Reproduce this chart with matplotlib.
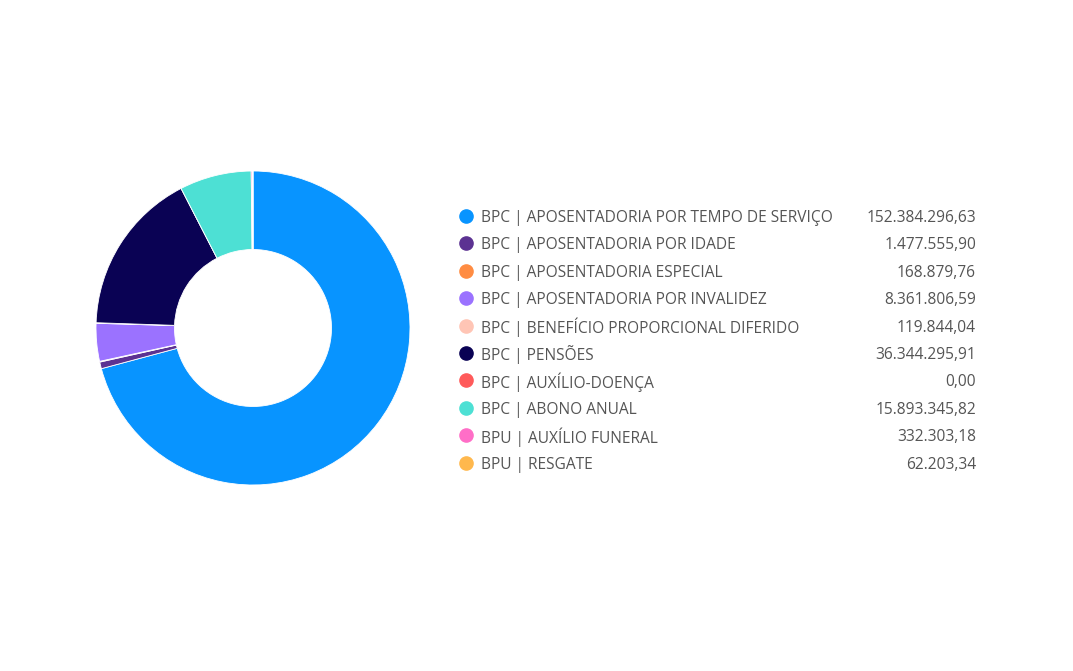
import matplotlib.pyplot as plt

plt.rcParams['font.family'] = ['Open Sans', 'DejaVu Sans']

labels = [
    "BPC | APOSENTADORIA POR TEMPO DE SERVIÇO",
    "BPC | APOSENTADORIA POR IDADE",
    "BPC | APOSENTADORIA ESPECIAL",
    "BPC | APOSENTADORIA POR INVALIDEZ",
    "BPC | BENEFÍCIO PROPORCIONAL DIFERIDO",
    "BPC | PENSÕES",
    "BPC | AUXÍLIO-DOENÇA",
    "BPC | ABONO ANUAL",
    "BPU | AUXÍLIO FUNERAL",
    "BPU | RESGATE",
]
values = [152384296.63, 1477555.90, 168879.76, 8361806.59, 119844.04,
          36344295.91, 0.00, 15893345.82, 332303.18, 62203.34]
colors = ["#0894FF", "#5C3292", "#FF8C42", "#9B72FF", "#FFC5B5",
          "#0A0254", "#FF5A5A", "#4DE0D4", "#FF6EC7", "#FFB84D"]


def fmt_br(v):
    s = f"{v:,.2f}"
    return s.replace(",", "X").replace(".", ",").replace("X", ".")


W, H = 1073, 671
fig = plt.figure(figsize=(W / 100, H / 100), dpi=100)

# donut
cx, cy, r = 253, 328, 157
ax = fig.add_axes([(cx - r) / W, (H - cy - r) / H, 2 * r / W, 2 * r / H])
ax.pie(values, colors=colors, startangle=90, counterclock=False, radius=1,
       wedgeprops=dict(width=0.5, edgecolor='white', linewidth=0.6))
ax.set_xlim(-1, 1)
ax.set_ylim(-1, 1)
ax.set_aspect('equal')
ax.axis('off')

# legend
lax = fig.add_axes([0, 0, 1, 1])
lax.set_xlim(0, W)
lax.set_ylim(H, 0)
lax.axis('off')
y0, dy = 216, 27.4
for i, (lab, val, col) in enumerate(zip(labels, values, colors)):
    y = y0 + i * dy
    lax.plot(466, y, 'o', markersize=9.5, color=col, markeredgecolor=col)
    lax.text(481, y, lab, va='center_baseline', ha='left', fontsize=11.2, color='#555555')
    lax.text(976, y, fmt_br(val), va='center_baseline', ha='right', fontsize=11.2, color='#555555')

fig.savefig("out.png", dpi=100, facecolor='white')
